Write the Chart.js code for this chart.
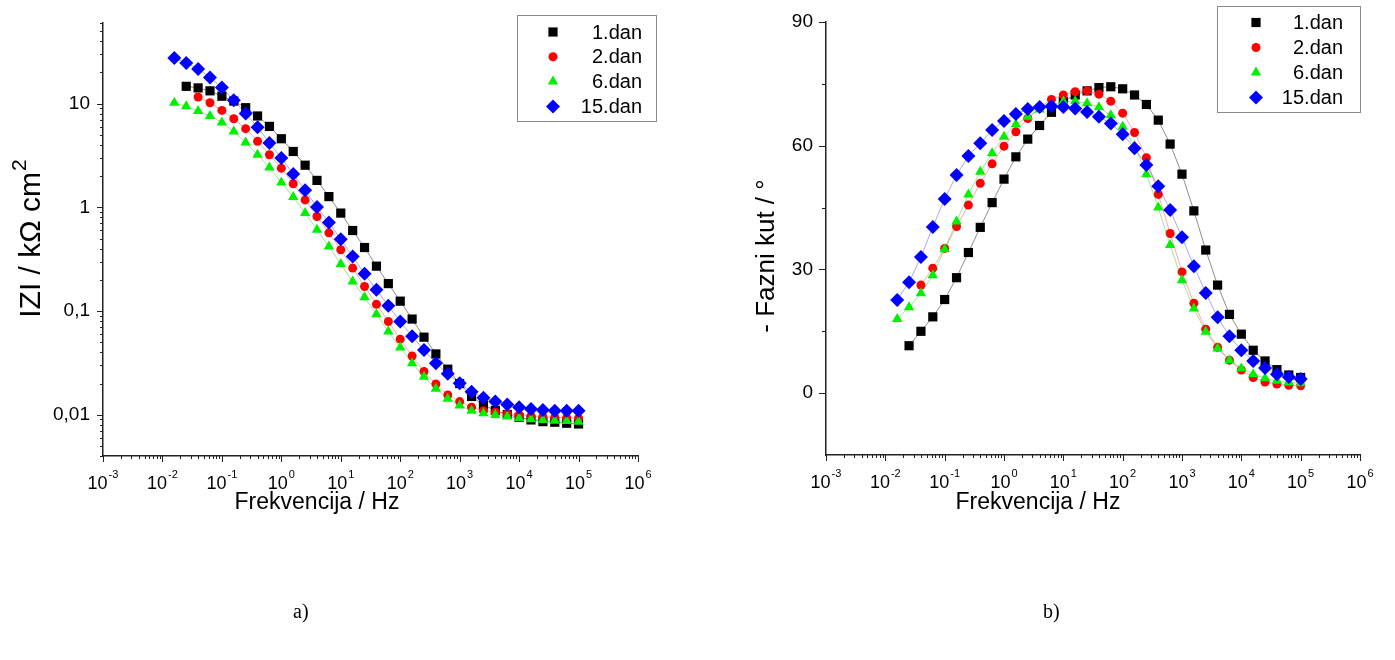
<!DOCTYPE html>
<html>
<head>
<meta charset="utf-8">
<script src="https://cdn.jsdelivr.net/npm/chart.js@4.4.1/dist/chart.umd.min.js"></script>
<style>
  body { margin: 0; background: #fff; width: 1395px; height: 660px; position: relative; overflow: hidden; }
  canvas { position: absolute; top: 0; }
  #impChart { left: 0; }
  #phaseChart { left: 700px; }
  .cap { position: absolute; top: 600px; font: 20px "Liberation Serif", "Times New Roman", serif; color: #000; }
</style>
</head>
<body>
<canvas id="impChart" width="700" height="660"></canvas>
<canvas id="phaseChart" width="695" height="660"></canvas>
<div class="cap" style="left:293px">a)</div>
<div class="cap" style="left:1043px">b)</div>
<script>
// measuring frequencies (Hz), low to high
const freq = [0.01585, 0.02512, 0.03981, 0.0631, 0.1, 0.1585, 0.2512, 0.3981, 0.631,
    1, 1.585, 2.512, 3.981, 6.31, 10, 15.85, 25.12, 39.81, 63.1,
    100, 158.5, 251.2, 398.1, 631, 1000, 1585, 2512, 3981, 6310,
    10000, 15849, 25119, 39811, 63096, 100000];

const seriesNames = ['1.dan', '2.dan', '6.dan', '15.dan'];

// |Z| / kOhm cm2
const zDan1 = [null, 14.7, 14.2, 13.3, 11.8, 10.6, 9.15, 7.61, 6.04, 4.59, 3.46, 2.55, 1.82, 1.27,
    0.881, 0.598, 0.410, 0.271, 0.184, 0.1246, 0.0837, 0.0560, 0.0386, 0.0275, 0.0200, 0.0150,
    0.0124, 0.0110, 0.01007, 0.00942, 0.00891, 0.00858, 0.00847, 0.00828, 0.00815];
const zDan2 = [null, null, 11.6, 10.2, 8.61, 7.16, 5.74, 4.33, 3.22, 2.39, 1.69, 1.18, 0.817, 0.568,
    0.390, 0.2595, 0.1724, 0.1161, 0.0792, 0.0536, 0.0369, 0.0261, 0.0198, 0.0155, 0.0134, 0.0118,
    0.01095, 0.01057, 0.01018, 0.00996, 0.00974, 0.00959, 0.00946, 0.00938, 0.00925];
const zDan6 = [10.2, 9.42, 8.50, 7.61, 6.60, 5.40, 4.23, 3.22, 2.43, 1.74, 1.26, 0.881, 0.608, 0.420,
    0.2836, 0.1927, 0.1359, 0.0934, 0.0634, 0.0446, 0.0314, 0.0232, 0.0178, 0.0143, 0.01227, 0.01095,
    0.01034, 0.00996, 0.00959, 0.00925, 0.00905, 0.00891, 0.00877, 0.00871, 0.00858];
const zDan15 = [27.6, 24.7, 21.6, 17.9, 14.3, 10.8, 8.06, 5.93, 4.18, 2.99, 2.10, 1.46, 1.01, 0.715,
    0.492, 0.336, 0.2286, 0.1602, 0.1128, 0.0792, 0.0572, 0.0422, 0.0314, 0.0248, 0.0201, 0.0167,
    0.0146, 0.0134, 0.01254, 0.01181, 0.01138, 0.01113, 0.01095, 0.01095, 0.01095];

// - phase angle / deg
const phDan1 = [null, 11.5, 15.0, 18.5, 22.7, 28.0, 34.1, 40.2, 46.2, 51.9, 57.3, 61.6, 64.9, 68.1,
    70.7, 72.3, 73.3, 74.1, 74.3, 73.8, 72.3, 70.0, 66.2, 60.4, 53.1, 44.2, 34.7, 26.2, 19.1,
    14.3, 10.4, 7.8, 5.7, 4.4, 3.8];
const phDan2 = [null, null, 26.2, 30.3, 35.1, 40.4, 45.6, 50.9, 55.6, 59.9, 63.4, 66.6, 69.3, 71.2,
    72.3, 73.1, 73.3, 72.5, 70.8, 67.9, 63.2, 57.1, 48.2, 38.7, 29.4, 21.8, 15.5, 11.1, 8.0,
    5.6, 3.8, 2.7, 2.2, 1.9, 1.8];
const phDan6 = [18.0, 20.8, 24.2, 28.6, 34.9, 41.6, 48.2, 53.7, 58.2, 62.2, 65.2, 67.0, 68.8, 69.9,
    70.7, 70.8, 70.3, 69.3, 67.4, 64.6, 59.9, 53.1, 45.0, 35.9, 27.4, 20.5, 14.9, 10.8, 8.0,
    6.0, 4.6, 3.6, 3.0, 2.6, 2.4];
const phDan15 = [22.6, 26.9, 33.0, 40.3, 47.1, 52.9, 57.5, 60.6, 63.8, 66.0, 67.7, 68.9, 69.4, 69.6,
    69.4, 69.0, 68.2, 67.0, 65.4, 62.8, 59.4, 55.3, 50.2, 44.4, 37.8, 30.8, 24.3, 18.4, 13.8,
    10.4, 7.8, 6.1, 4.6, 3.9, 3.4];

// axis ticks
const xTickPowers = [-3, -2, -1, 0, 1, 2, 3, 4, 5, 6];
const zTickValues = [0.01, 0.1, 1, 10];
const zTickLabels = ['0,01', '0,1', '1', '10'];
const phTickValues = [0, 30, 60, 90];

const FONT = 'Arial, "Liberation Sans", sans-serif';

const styles = [
    { color: '#000000', line: 'rgba(0,0,0,0.45)', shape: 'rect', r: 6.5 },
    { color: '#ff0000', line: 'rgba(255,0,0,0.35)', shape: 'circle', r: 4.5 },
    { color: '#00f000', line: 'rgba(0,190,0,0.4)', shape: 'triangle', r: 6 },
    { color: '#0000ff', line: 'rgba(0,0,255,0.35)', shape: 'rectRot', r: 7 }
];

function buildSets(lists) {
    return lists.map((vals, i) => ({
        label: seriesNames[i],
        data: freq.map((f, j) => ({ x: f, y: vals[j] })).filter(p => p.y !== null),
        borderColor: styles[i].line,
        borderWidth: 1,
        backgroundColor: styles[i].color,
        pointBackgroundColor: styles[i].color,
        pointBorderColor: styles[i].color,
        pointBorderWidth: 0,
        pointStyle: styles[i].shape,
        pointRadius: styles[i].r,
        pointHoverRadius: styles[i].r,
        order: 4 - i
    }));
}

function drawMark(ctx, i, x, y) {
    ctx.fillStyle = styles[i].color;
    if (Chart.helpers && Chart.helpers.drawPoint) {
        Chart.helpers.drawPoint(ctx, { pointStyle: styles[i].shape, radius: styles[i].r, borderWidth: 0, rotation: 0 }, x, y);
    } else {
        ctx.beginPath();
        ctx.arc(x, y, styles[i].r, 0, Math.PI * 2);
        ctx.fill();
    }
}

// ticks, exponent labels, titles and the boxed legend
const decor = {
    id: 'decor',
    afterDraw(chart, args, o) {
        const ctx = chart.ctx;
        const { left, right, top, bottom } = chart.chartArea;
        const xs = chart.scales.x, ys = chart.scales.y;
        ctx.save();
        ctx.strokeStyle = '#222';
        ctx.lineWidth = 1;
        ctx.beginPath();
        // x: log ticks, outward
        for (let e = -3; e <= 6; e++) {
            for (let k = 1; k <= 9; k++) {
                const v = k * Math.pow(10, e);
                if (v > xs.max * 1.0001) break;
                const px = Math.round(xs.getPixelForValue(v)) + 0.5;
                ctx.moveTo(px, bottom);
                ctx.lineTo(px, bottom + (k === 1 ? 6 : 3));
            }
        }
        // y ticks
        if (ys.type === 'logarithmic') {
            for (let e = Math.floor(Math.log10(ys.min)); e <= Math.floor(Math.log10(ys.max)); e++) {
                for (let k = 1; k <= 9; k++) {
                    const v = k * Math.pow(10, e);
                    if (v < ys.min * 0.9999 || v > ys.max * 1.0001) continue;
                    const py = Math.round(ys.getPixelForValue(v)) + 0.5;
                    ctx.moveTo(left, py);
                    ctx.lineTo(left - (k === 1 ? 6 : 3), py);
                }
            }
        } else {
            for (let v = 0; v <= ys.max; v += o.minorStep) {
                const py = Math.round(ys.getPixelForValue(v)) + 0.5;
                ctx.moveTo(left, py);
                ctx.lineTo(left - (v % (2 * o.minorStep) === 0 ? 7 : 4), py);
            }
        }
        ctx.stroke();

        // x tick labels: 10 with superscript exponent
        ctx.fillStyle = '#000';
        ctx.textBaseline = 'alphabetic';
        ctx.textAlign = 'left';
        xTickPowers.forEach(p => {
            const px = xs.getPixelForValue(Math.pow(10, p));
            ctx.font = '18px ' + FONT;
            const wb = ctx.measureText('10').width;
            ctx.font = '11px ' + FONT;
            const we = ctx.measureText(String(p)).width;
            const x0 = px - (wb + we + 1) / 2;
            ctx.font = '18px ' + FONT;
            ctx.fillText('10', x0, bottom + 33);
            ctx.font = '11px ' + FONT;
            ctx.fillText(String(p), x0 + wb + 1, bottom + 22);
        });

        // x title
        ctx.font = '23px ' + FONT;
        ctx.textAlign = 'center';
        ctx.textBaseline = 'middle';
        ctx.fillText(o.xTitle, o.xTitleX, o.xTitleY);

        // y title, rotated
        ctx.save();
        ctx.translate(o.yTitleX, o.yTitleY);
        ctx.rotate(-Math.PI / 2);
        ctx.font = o.yTitleSize + 'px ' + FONT;
        const wMain = ctx.measureText(o.yTitle).width;
        let wSup = 0;
        if (o.ySup) {
            ctx.font = Math.round(o.yTitleSize * 0.7) + 'px ' + FONT;
            wSup = ctx.measureText(o.ySup).width;
        }
        const start = -(wMain + wSup) / 2;
        ctx.textAlign = 'left';
        ctx.textBaseline = 'middle';
        ctx.font = o.yTitleSize + 'px ' + FONT;
        ctx.fillText(o.yTitle, start, 0);
        if (o.ySup) {
            ctx.font = Math.round(o.yTitleSize * 0.7) + 'px ' + FONT;
            ctx.fillText(o.ySup, start + wMain + 1, -o.yTitleSize * 0.38);
        }
        ctx.restore();

        // legend box
        const L = o.legend;
        ctx.strokeStyle = '#8a8a8a';
        ctx.lineWidth = 1;
        ctx.strokeRect(L.x + 0.5, L.y + 0.5, L.w, L.h);
        ctx.font = '20px ' + FONT;
        ctx.textAlign = 'right';
        ctx.textBaseline = 'middle';
        seriesNames.forEach((name, i) => {
            const ry = L.row0 + i * L.dy;
            drawMark(ctx, i, L.mx, ry);
            ctx.fillStyle = '#000';
            ctx.fillText(name, L.tx, ry + 1);
        });
        ctx.restore();
    }
};

function axisBorder() {
    return { display: true, color: '#222', width: 1.5 };
}

function makeChart(id, sets, yScale, deco, pad, yWidth) {
    return new Chart(document.getElementById(id).getContext('2d'), {
        type: 'line',
        data: { datasets: sets },
        options: {
            responsive: false,
            animation: false,
            devicePixelRatio: 1,
            layout: { padding: pad },
            plugins: { legend: { display: false }, tooltip: { enabled: false }, decor: deco },
            scales: {
                x: {
                    type: 'logarithmic', min: 1e-3, max: 1e6,
                    grid: { display: false },
                    border: axisBorder(),
                    ticks: { display: false },
                    afterFit: s => { s.height = 660 - pad.top - deco.plotH; }
                },
                y: Object.assign({
                    grid: { display: true, drawOnChartArea: false, drawTicks: true, tickLength: 13, tickColor: 'rgba(0,0,0,0)' },
                    border: axisBorder(),
                    afterFit: s => { s.width = yWidth; }
                }, yScale)
            }
        },
        plugins: [decor]
    });
}

// a) impedance modulus
makeChart('impChart', buildSets([zDan1, zDan2, zDan6, zDan15]), {
    type: 'logarithmic', min: 0.004, max: 60,
    afterBuildTicks: s => { s.ticks = zTickValues.map(v => ({ value: v })); },
    ticks: {
        padding: 0, color: '#000', font: { family: FONT, size: 19 },
        callback: v => {
            const i = zTickValues.findIndex(t => Math.abs(Math.log10(t) - Math.log10(v)) < 1e-6);
            return i >= 0 ? zTickLabels[i] : '';
        }
    }
}, {
    plotH: 433,
    xTitle: 'Frekvencija / Hz', xTitleX: 317, xTitleY: 503,
    yTitle: 'IZI / k\u03A9 cm', ySup: '2', yTitleSize: 30, yTitleX: 32, yTitleY: 239,
    legend: { x: 517, y: 15, w: 139, h: 106, row0: 32, dy: 24.8, mx: 553, tx: 642 }
}, { left: 0, top: 23, right: 62, bottom: 0 }, 103);

// b) phase angle
makeChart('phaseChart', buildSets([phDan1, phDan2, phDan6, phDan15]), {
    type: 'linear', min: -15, max: 90,
    afterBuildTicks: s => { s.ticks = phTickValues.map(v => ({ value: v })); },
    ticks: { padding: 0, color: '#000', font: { family: FONT, size: 19 } }
}, {
    plotH: 433, minorStep: 15,
    xTitle: 'Frekvencija / Hz', xTitleX: 338, xTitleY: 503,
    yTitle: '- Fazni kut / \u00B0', ySup: '', yTitleSize: 26, yTitleX: 67, yTitleY: 256,
    legend: { x: 517, y: 6, w: 143, h: 106, row0: 22.5, dy: 25, mx: 556, tx: 643 }
}, { left: 0, top: 22, right: 35, bottom: 0 }, 126);
</script>
</body>
</html>
